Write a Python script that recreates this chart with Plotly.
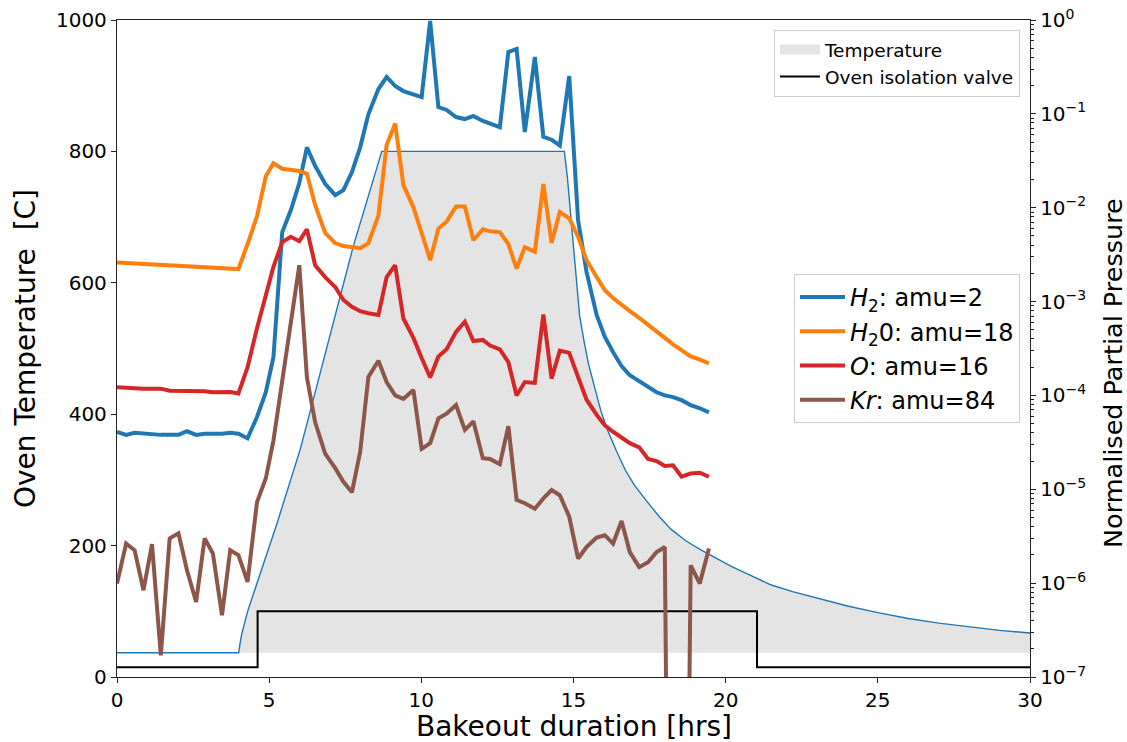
import plotly.graph_objects as go

# ---------------- data ----------------
# RGA sample times [hrs]
time_hrs = [0.0, 0.30, 0.58, 0.87, 1.15, 1.44, 1.73, 2.02, 2.30, 2.60,
            2.88, 3.15, 3.45, 3.72, 3.99, 4.29, 4.60, 4.89, 5.14, 5.43,
            5.71, 5.99, 6.24, 6.51, 6.84, 7.17, 7.44, 7.72, 7.99, 8.26,
            8.59, 8.86, 9.14, 9.41, 9.74, 10.01, 10.29, 10.56, 10.83, 11.14,
            11.43, 11.71, 12.02, 12.26, 12.58, 12.86, 13.13, 13.40, 13.73, 14.01,
            14.28, 14.55, 14.86, 15.15, 15.43, 15.76, 16.03, 16.30, 16.58, 16.85,
            17.16, 17.45, 17.73, 18.00, 18.27, 18.55, 18.85, 19.15, 19.45]

# Normalised partial pressures
h2 = [4.1e-5, 3.8e-5, 4.0e-5, 3.9e-5, 3.9e-5, 3.8e-5, 3.8e-5, 3.8e-5, 4.15e-5, 3.8e-5,
      3.9e-5, 3.86e-5, 3.9e-5, 4.0e-5, 3.9e-5, 3.5e-5, 5.9e-5, 1.08e-4, 2.55e-4, 5.5e-3,
      9.4e-3, 1.83e-2, 4.4e-2, 2.8e-2, 1.8e-2, 1.36e-2, 1.54e-2, 2.4e-2, 4.4e-2, 9.9e-2,
      0.184, 0.247, 0.198, 0.175, 0.163, 0.151, 0.975, 0.118, 0.110, 0.0925,
      0.088, 0.095, 0.084, 0.078, 0.072, 0.456, 0.491, 0.064, 0.403, 0.057,
      0.053, 0.046, 0.253, 7.4e-3, 2.06e-3, 7.2e-4, 4.2e-4, 2.9e-4, 2.05e-4, 1.64e-4,
      1.41e-4, 1.22e-4, 1.08e-4, 1.0e-4, 9.6e-5, 8.9e-5, 7.9e-5, 7.3e-5, 6.6e-5]

h2o = [2.6e-3, 2.57e-3, 2.53e-3, 2.5e-3, 2.47e-3, 2.44e-3, 2.44e-3, 2.41e-3, 2.41e-3, 2.36e-3,
       2.33e-3, 2.31e-3, 2.28e-3, 2.25e-3, 2.22e-3, 4.1e-3, 8.1e-3, 2.17e-2, 2.97e-2, 2.6e-2,
       2.5e-2, 2.46e-2, 2.3e-2, 1.07e-2, 5.4e-3, 4.2e-3, 3.9e-3, 3.8e-3, 3.7e-3, 4.2e-3,
       8.3e-3, 4.65e-2, 7.9e-2, 1.74e-2, 1.01e-2, 5.4e-3, 2.76e-3, 6.0e-3, 7.1e-3, 1.03e-2,
       1.03e-2, 4.5e-3, 5.9e-3, 5.6e-3, 5.5e-3, 4.1e-3, 2.25e-3, 3.8e-3, 3.4e-3, 1.79e-2,
       4.2e-3, 9.0e-3, 7.7e-3, 4.9e-3, 2.76e-3, 1.83e-3, 1.32e-3, 1.09e-3, 9.2e-4, 7.9e-4,
       6.7e-4, 5.7e-4, 4.8e-4, 4.1e-4, 3.5e-4, 3.0e-4, 2.6e-4, 2.4e-4, 2.2e-4]

oxygen = [1.22e-4, 1.2e-4, 1.19e-4, 1.18e-4, 1.18e-4, 1.18e-4, 1.12e-4, 1.12e-4, 1.12e-4, 1.11e-4,
          1.11e-4, 1.08e-4, 1.09e-4, 1.09e-4, 1.05e-4, 2.0e-4, 5.2e-4, 1.22e-3, 2.34e-3, 4.3e-3,
          4.9e-3, 4.4e-3, 5.9e-3, 2.44e-3, 1.82e-3, 1.43e-3, 1.04e-3, 8.8e-4, 7.9e-4, 7.5e-4,
          7.2e-4, 1.82e-3, 2.44e-3, 6.6e-4, 4.1e-4, 2.5e-4, 1.55e-4, 2.6e-4, 3.1e-4, 4.75e-4,
          6.1e-4, 3.8e-4, 3.9e-4, 3.4e-4, 3.1e-4, 2.26e-4, 1.0e-4, 1.39e-4, 1.36e-4, 7.3e-4,
          1.51e-4, 3.0e-4, 2.84e-4, 1.57e-4, 9.0e-5, 6.2e-5, 4.8e-5, 4.1e-5, 3.56e-5, 3.1e-5,
          2.8e-5, 2.1e-5, 2.0e-5, 1.77e-5, 1.8e-5, 1.36e-5, 1.47e-5, 1.5e-5, 1.36e-5]

krypton = [9.9e-7, 2.64e-6, 2.24e-6, 8.4e-7, 2.6e-6, 1.7e-7, 3.0e-6, 3.4e-6, 1.37e-6, 6.3e-7,
           3.0e-6, 2.07e-6, 4.55e-7, 2.24e-6, 1.99e-6, 1.03e-6, 7.3e-6, 1.31e-5, 3.3e-5, 1.45e-4,
           5.3e-4, 2.44e-3, 1.56e-4, 5.2e-5, 2.4e-5, 1.68e-5, 1.2e-5, 9.3e-6, 2.5e-5, 1.57e-4,
           2.34e-4, 1.39e-4, 1.0e-4, 9.2e-5, 1.14e-4, 2.7e-5, 3.1e-5, 5.7e-5, 6.4e-5, 7.9e-5,
           4.3e-5, 5.3e-5, 2.14e-5, 2.1e-5, 1.85e-5, 4.7e-5, 7.7e-6, 7.1e-6, 6.2e-6, 8.0e-6,
           9.8e-6, 8.65e-6, 5.1e-6, 1.83e-6, 2.43e-6, 3.06e-6, 3.24e-6, 2.64e-6, 4.6e-6, 2.14e-6,
           1.48e-6, 1.67e-6, 2.14e-6, 2.43e-6, 1e-15, 1e-15, 1.55e-6, 9.9e-7, 2.34e-6]

# Oven temperature profile [C]
temp_time = [0.0, 4.0, 4.04, 4.1, 4.3, 4.6, 5.26, 6.03, 6.9, 7.76, 8.7,
             14.7, 14.8, 14.9, 15.0, 15.1, 15.2, 15.35, 15.5, 15.7, 15.9,
             16.1, 16.4, 16.7, 17.0, 17.4, 17.8, 18.2, 18.7, 19.2, 19.6,
             20.2, 20.8, 21.5, 22.2, 23.0, 24.0, 25.0, 26.0, 27.0, 28.0,
             29.0, 30.0]
temp_c = [37, 37, 50, 66, 101, 142, 234, 348, 502, 655, 800,
          800, 760, 710, 660, 600, 550, 510, 475, 440, 405,
          378, 345, 315, 292, 268, 245, 225, 207, 193, 183,
          168, 155, 140, 130, 120, 108, 98, 89, 82, 76,
          71, 67]
temp_base = 37

# Oven isolation valve trace [C-axis units]
valve_time = [0.0, 4.62, 4.62, 21.03, 21.03, 30.0]
valve_level = [15, 15, 100, 100, 15, 15]

series_names = ["<i>H</i><sub>2</sub>: amu=2", "<i>H</i><sub>2</sub>0: amu=18",
                "<i>O</i>: amu=16", "<i>Kr</i>: amu=84"]
series_colors = ["#1f77b4", "#ff7f0e", "#d62728", "#8c564b"]

y2_tickvals = [1e-7, 1e-6, 1e-5, 1e-4, 1e-3, 1e-2, 1e-1, 1e0]
y2_ticktext = ["10<sup>\u22127</sup>", "10<sup>\u22126</sup>", "10<sup>\u22125</sup>",
               "10<sup>\u22124</sup>", "10<sup>\u22123</sup>", "10<sup>\u22122</sup>",
               "10<sup>\u22121</sup>", "10<sup>0</sup>"]
y2_minor = [m * 10.0 ** e for e in range(-7, 0) for m in range(2, 10)]

FONT = "DejaVu Sans"
FILL = "#e4e4e4"

fig = go.Figure()

# baseline for the fill
fig.add_trace(go.Scatter(x=[temp_time[0], temp_time[-1]], y=[temp_base, temp_base],
                         mode="lines", line=dict(width=0, color="rgba(0,0,0,0)"),
                         showlegend=False, hoverinfo="skip"))
fig.add_trace(go.Scatter(x=temp_time, y=temp_c, mode="lines", fill="tonexty",
                         fillcolor=FILL, line=dict(width=0, color=FILL),
                         name="Temperature", showlegend=False))
# legend swatch for the filled temperature area
fig.add_trace(go.Scatter(x=[None], y=[None], mode="lines",
                         line=dict(width=14, color=FILL),
                         name="Temperature", legend="legend"))
fig.add_trace(go.Scatter(x=temp_time, y=temp_c, mode="lines",
                         line=dict(width=1.4, color="#1f77b4"),
                         showlegend=False))
fig.add_trace(go.Scatter(x=valve_time, y=valve_level, mode="lines",
                         line=dict(width=2, color="black"),
                         name="Oven isolation valve", legend="legend"))

for name, vals, col in zip(series_names, [h2, h2o, oxygen, krypton], series_colors):
    fig.add_trace(go.Scatter(x=time_hrs, y=vals, mode="lines", yaxis="y2",
                             line=dict(width=4, color=col),
                             name=name, legend="legend2"))

axis_common = dict(showline=True, linecolor="#222", linewidth=1.3, ticks="outside",
                   ticklen=5, tickcolor="#222", showgrid=False, zeroline=False,
                   automargin=False,
                   tickfont=dict(family=FONT, size=20, color="black"))

fig.update_layout(
    width=1127, height=742,
    margin=dict(l=117, r=97, t=20, b=65),
    plot_bgcolor="white", paper_bgcolor="white",
    font=dict(family=FONT, color="black"),
    xaxis=dict(range=[0, 30], tickvals=[0, 5, 10, 15, 20, 25, 30], mirror=True,
               **axis_common),
    yaxis=dict(range=[0, 1000], tickvals=[0, 200, 400, 600, 800, 1000],
               title=dict(text="Oven Temperature\u00a0\u00a0[C]", font=dict(family=FONT, size=28), standoff=12),
               **axis_common),
    yaxis2=dict(type="log", range=[-7, 0], overlaying="y", side="right",
                tickmode="array", tickvals=y2_tickvals, ticktext=y2_ticktext,
                minor=dict(tickmode="array", tickvals=y2_minor, ticks="outside",
                           ticklen=3, tickcolor="#222", showgrid=False),
                **axis_common),
    annotations=[
        dict(text="Normalised Partial Pressure", xref="paper", yref="paper",
             x=1.0909, y=0.4627, xanchor="center", yanchor="middle",
             textangle=-90, showarrow=False,
             font=dict(family=FONT, size=25.5, color="black")),
        dict(text="Bakeout duration [hrs]", xref="paper", yref="paper",
             x=0.5, y=-0.0989, xanchor="center", yanchor="bottom",
             showarrow=False, borderpad=0, yshift=-2,
             font=dict(family=FONT, size=28, color="black")),
    ],
    legend=dict(x=0.989, y=0.985, xanchor="right", yanchor="top",
                bgcolor="rgba(255,255,255,0.8)", bordercolor="#cccccc", borderwidth=1,
                font=dict(family=FONT, size=18.5), traceorder="normal", itemwidth=40),
    legend2=dict(x=0.989, y=0.5, xanchor="right", yanchor="middle",
                 bgcolor="rgba(255,255,255,0.8)", bordercolor="#cccccc", borderwidth=1,
                 font=dict(family=FONT, size=24), traceorder="normal", itemwidth=45),
)

fig.write_html("out.html")
